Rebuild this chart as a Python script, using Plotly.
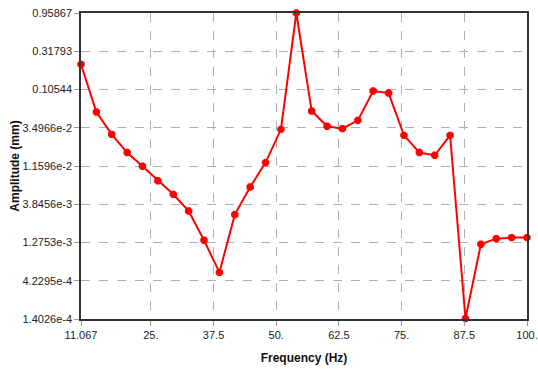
import math
import plotly.graph_objects as go

freq = [11.067, 14.133, 17.2, 20.267, 23.333, 26.4, 29.467, 32.533, 35.6, 38.667,
        41.733, 44.8, 47.867, 50.933, 54.0, 57.067, 60.133, 63.2, 66.267, 69.333,
        72.4, 75.467, 78.533, 81.6, 84.667, 87.733, 90.8, 93.867, 96.933, 100.0]
amplitude = [0.218, 0.0551, 0.0289, 0.0171, 0.0115, 0.00756, 0.00512, 0.00316, 0.00136, 0.000539,
             0.00285, 0.00632, 0.0128, 0.0334, 0.958, 0.0566, 0.0365, 0.0341, 0.0433, 0.1009,
             0.0952, 0.0281, 0.0171, 0.0158, 0.0281, 0.000142, 0.00121, 0.001426, 0.00147, 0.00147]

x_ticks = [11.067, 25, 37.5, 50, 62.5, 75, 87.5, 100]
x_labels = ["11.067", "25.", "37.5", "50.", "62.5", "75.", "87.5", "100."]
y_ticks = [1.4026e-4, 4.2295e-4, 1.2753e-3, 3.8456e-3, 1.1596e-2, 3.4966e-2, 0.10544, 0.31793, 0.95867]
y_labels = ["1.4026e-4", "4.2295e-4", "1.2753e-3", "3.8456e-3", "1.1596e-2", "3.4966e-2",
            "0.10544", "0.31793", "0.95867"]

fig = go.Figure(go.Scatter(
    x=freq, y=amplitude, mode="lines+markers",
    line=dict(color="#ff0000", width=2),
    marker=dict(color="#ff0000", size=8, symbol="octagon"),
    cliponaxis=False,
))

font = "Liberation Sans"
fig.update_layout(
    width=538, height=369,
    margin=dict(l=81, r=11, t=13, b=50),
    paper_bgcolor="white", plot_bgcolor="white",
    showlegend=False,
    font=dict(family=font, size=11, color="#222"),
    xaxis=dict(
        range=[11.067, 100], tickvals=x_ticks, ticktext=x_labels,
        automargin=False, ticklabeloverflow="allow",
        showgrid=True, gridcolor="#b0b0b0", griddash="dash", gridwidth=1,
        showline=True, linecolor="#333", linewidth=1.5, mirror=True,
        ticks="outside", ticklen=5, tickcolor="#999",
        zeroline=False,
        tickfont=dict(size=11, family=font),
        title=dict(text="<b>Frequency (Hz)</b>", font=dict(size=12, family=font, color="#111"), standoff=14),
    ),
    yaxis=dict(
        type="log",
        range=[math.log10(1.4026e-4), math.log10(0.95867)],
        tickvals=y_ticks, ticktext=y_labels,
        automargin=False, ticklabeloverflow="allow",
        showgrid=True, gridcolor="#b0b0b0", griddash="dash", gridwidth=1,
        showline=True, linecolor="#333", linewidth=1.5, mirror=True,
        ticks="outside", ticklen=5, tickcolor="#999",
        zeroline=False,
        tickfont=dict(size=11, family=font),
        title=dict(text="<b>Amplitude (mm)</b>", font=dict(size=12, family=font, color="#111"), standoff=0),
    ),
)

fig.write_html("out.html", config={"displayModeBar": False},
               post_script="document.body.style.margin='0px';")
